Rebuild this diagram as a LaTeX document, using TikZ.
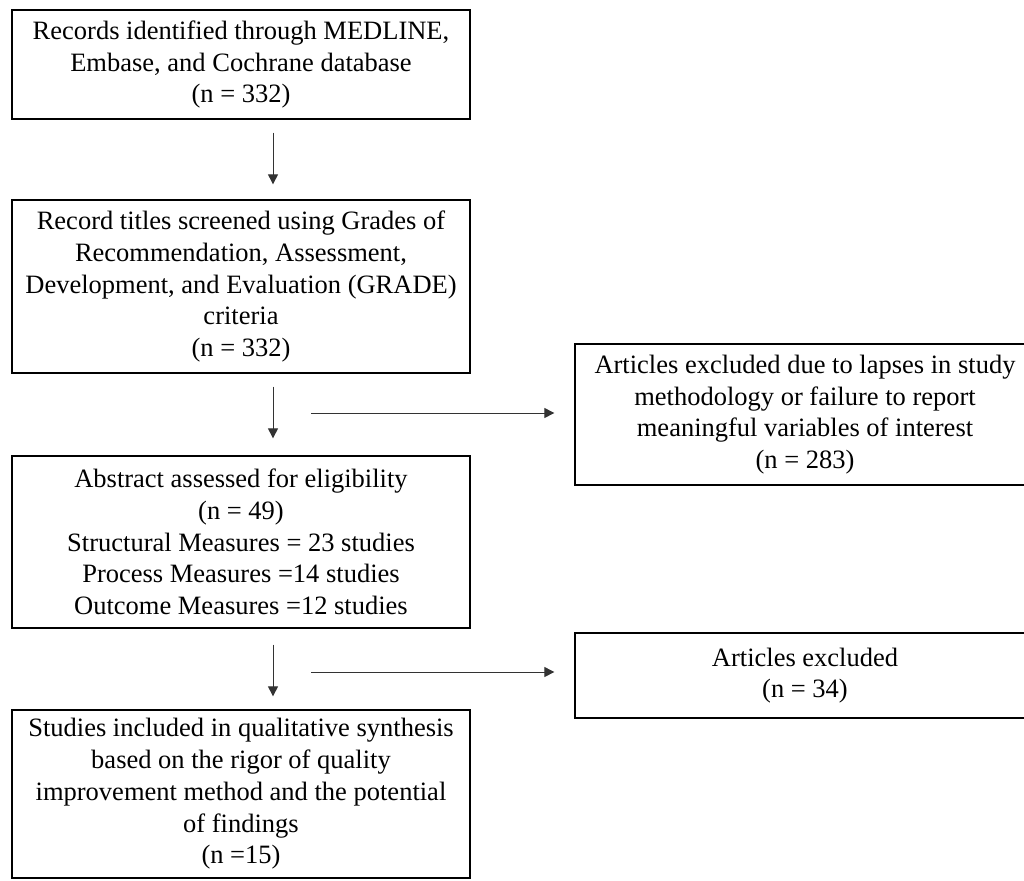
\documentclass[tikz,border=0pt]{standalone}
\usepackage{fontspec}
\setmainfont{Liberation Serif}
\usetikzlibrary{arrows.meta, positioning}

\tikzset{
  stagebox/.style={draw, line width=1.3pt, align=center, inner sep=0pt,
    font=\fontsize{26.5}{31.7}\selectfont},
  flowarrow/.style={line width=1pt, draw=black!80,
    -{Triangle[length=10pt, width=10pt]}}
}

\begin{document}
\begin{tikzpicture}[x=1pt, y=-1pt]
        \useasboundingbox (0,0) rectangle (1024,880);
        % left column
        \node[stagebox, minimum width=458, minimum height=109] (records) at (241,64.5)
          {Records identified through MEDLINE,\\ Embase, and Cochrane database\\ (n = 332)};
        \node[stagebox, minimum width=458, minimum height=173] (titles) at (241,286.5)
          {Record titles screened using Grades of\\ Recommendation, Assessment,\\ Development, and Evaluation (GRADE)\\ criteria\\ (n = 332)};
        \node[stagebox, minimum width=458, minimum height=172] (abstract) at (241,542)
          {Abstract assessed for eligibility\\ (n = 49)\\ Structural Measures = 23 studies\\ Process Measures =14 studies\\ Outcome Measures =12 studies};
        \node[stagebox, minimum width=458, minimum height=168] (included) at (241,794)
          {Studies included in qualitative synthesis\\ based on the rigor of quality\\ improvement method and the potential\\ of findings\\ (n =15)};
        % right column (runs past the right edge of the page)
        \node[stagebox, minimum width=460, minimum height=141] (excluded1) at (805,414.5)
          {Articles excluded due to lapses in study\\ methodology or failure to report\\ meaningful variables of interest\\ (n = 283)};
        \node[stagebox, minimum width=460, minimum height=85] (excluded2) at (805,675.5)
          {Articles excluded\\ (n = 34)};

        \draw[flowarrow, shorten <=13pt, shorten >=15pt] (records.south -| 273,0) -- (titles.north -| 273,0);
        \draw[flowarrow, shorten <=13pt, shorten >=17pt] (titles.south -| 273,0) -- (abstract.north -| 273,0);
        \draw[flowarrow, shorten <=16pt, shorten >=13pt] (abstract.south -| 273,0) -- (included.north -| 273,0);

        \coordinate (side1) at (311,413);
        \coordinate (side2) at (311,672);
        \draw[flowarrow, shorten >=20pt] (side1) -- (excluded1.west |- side1);
        \draw[flowarrow, shorten >=20pt] (side2) -- (excluded2.west |- side2);
    \end{tikzpicture}
\end{document}
